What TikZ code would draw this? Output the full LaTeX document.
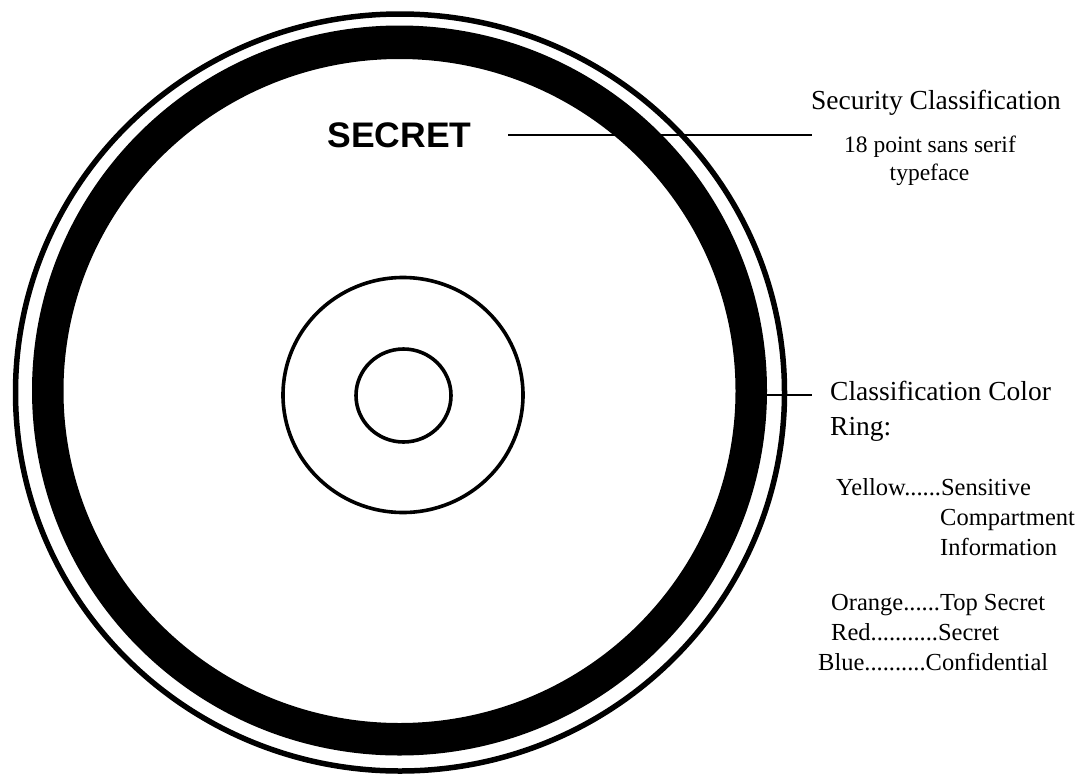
\documentclass[tikz,border=0pt]{standalone}
\usepackage{fontspec}
\setmainfont{Liberation Serif}
\newfontfamily\secretfont{Liberation Sans}
\begin{document}
\begin{tikzpicture}[x=1pt,y=-1pt,
  leader/.style={line width=2.6pt},
  thinring/.style={line width=3.6pt},
  outerring/.style={line width=5.5pt},
  bigtxt/.style={inner sep=0pt,font=\fontsize{27.5}{33}\selectfont},
  midtxt/.style={inner sep=0pt,font=\fontsize{23.5}{28}\selectfont},
  listtxt/.style={inner sep=0pt,font=\fontsize{24.5}{30}\selectfont}]
\useasboundingbox (0,0) rectangle (1089,774);
% disc
\draw[outerring] (400,392.5) ellipse [x radius=384.5, y radius=378.5];
\fill[black,even odd rule] (399.5,390.5) ellipse [x radius=367.5, y radius=365]
  (399.5,391) ellipse [x radius=336, y radius=332];
\draw[thinring] (403,395) ellipse [x radius=120, y radius=117.5];
\draw[thinring] (403.5,395.5) ellipse [x radius=47.5, y radius=46.5];
% SECRET label
\node[inner sep=0pt,anchor=base,font=\secretfont\bfseries\fontsize{35.5}{40}\selectfont] (secret) at (399.5,147) {SECRET};
\coordinate (s1) at (508,135);
\coordinate (s2) at (812,135);
\draw[leader] (s1) -- (s2);
\node[bigtxt,anchor=base] (seccls) at (936,109) {Security Classification};
\node[midtxt,anchor=base] (pt18) at (930,152) {18 point sans serif};
\node[midtxt,anchor=base] (typeface) at (929.5,180) {typeface};
% color ring label
\coordinate (r1) at (765,395);
\coordinate (r2) at (812,395);
\draw[leader] (r1) -- (r2);
\node[bigtxt,anchor=base west] (ccolor) at (830,400) {Classification Color};
\node[bigtxt,anchor=base west] (ring) at (830,435) {Ring:};
% list
\node[listtxt,anchor=base west] (yellow) at (836,495) {Yellow......Sensitive};
\node[listtxt,anchor=base west] (compart) at (940,525) {Compartment};
\node[listtxt,anchor=base west] (info) at (940,555) {Information};
\node[listtxt,anchor=base west] (orange) at (831,610) {Orange......Top Secret};
\node[listtxt,anchor=base west] (red) at (831,640) {Red...........Secret};
\node[listtxt,anchor=base west] (blue) at (818,670) {Blue..........Confidential};
\end{tikzpicture}
\end{document}
